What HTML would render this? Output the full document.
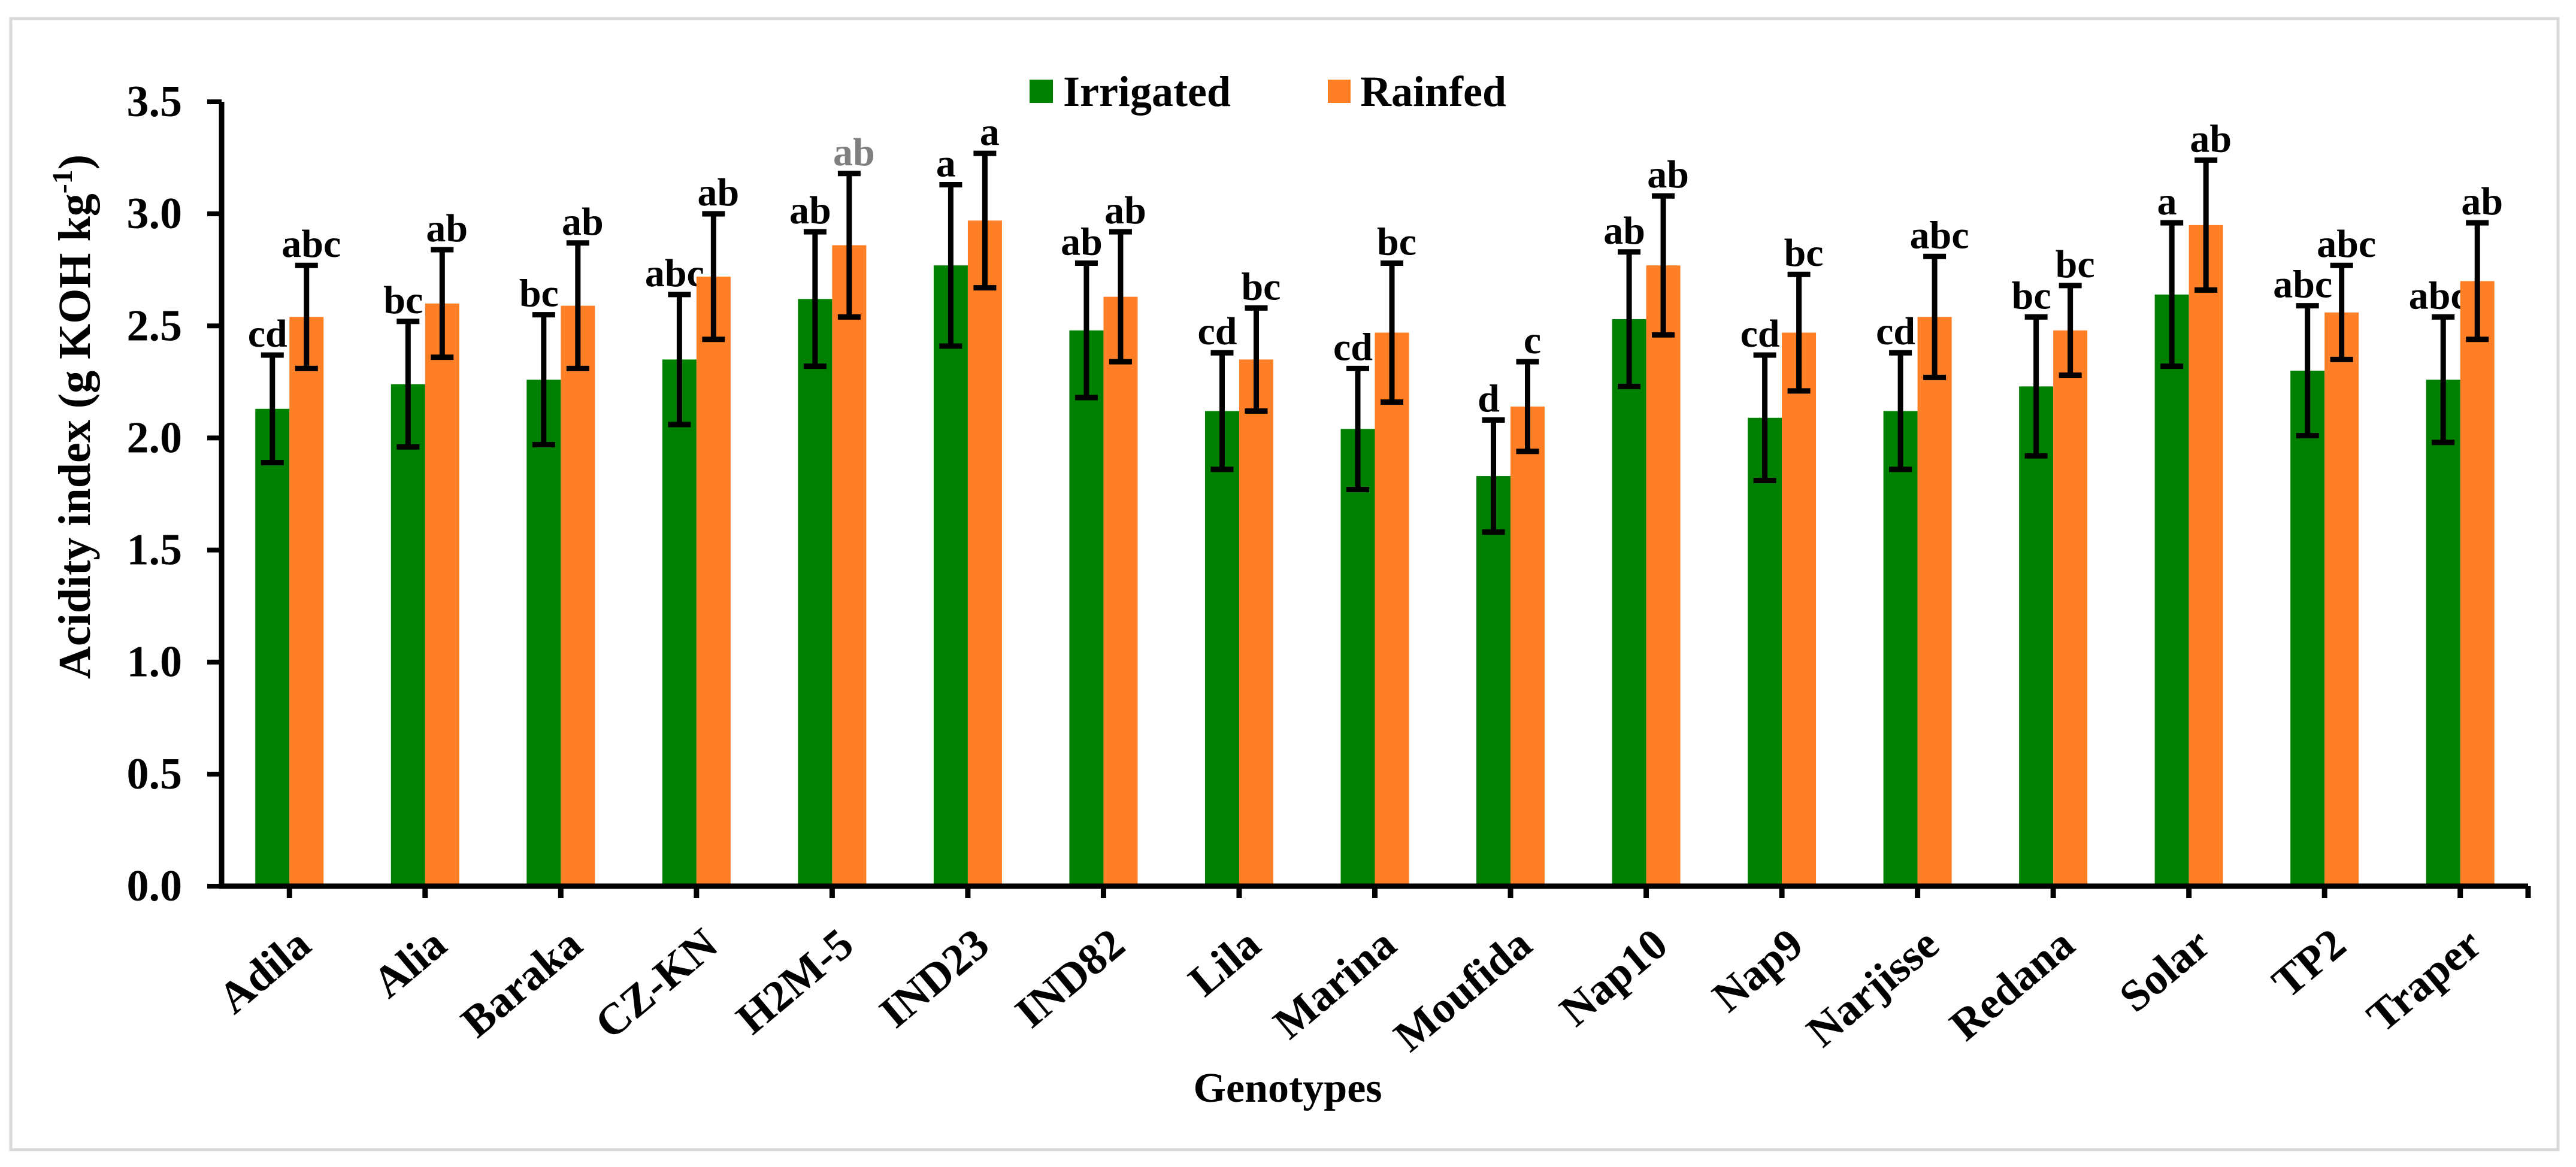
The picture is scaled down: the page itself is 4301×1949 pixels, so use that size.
<!DOCTYPE html>
<html><head><meta charset="utf-8"><style>
html,body{margin:0;padding:0;background:#fff;}
svg{display:block;}
svg text{font-family:"Liberation Serif","Times New Roman",serif;font-weight:bold;fill:#000;}
</style></head><body>
<svg id="chart" width="4301" height="1949" viewBox="0 0 4301 1949" font-family="Liberation Serif, serif" font-weight="bold">
<rect x="18" y="31" width="4253" height="1889" fill="#fff" stroke="#d9d9d9" stroke-width="5"/>
<g id="bars"></g>
<g id="axes"></g>
<g>
<rect x="1719" y="133" width="39" height="39" fill="#008000"/>
<text x="1775" y="177" font-size="72">Irrigated</text>
<rect x="2217" y="133" width="38" height="39" fill="#ff7f27"/>
<text x="2271" y="177" font-size="72">Rainfed</text>
</g>
<text transform="translate(150,696) rotate(-90)" text-anchor="middle" font-size="76">Acidity index (g KOH kg<tspan font-size="48" dy="-30">-1</tspan><tspan dy="30">)</tspan></text>
<text x="2150" y="1840" text-anchor="middle" font-size="70">Genotypes</text>
</svg>
<script>
const categories=["Adila","Alia","Baraka","CZ-KN","H2M-5","IND23","IND82","Lila","Marina","Moufida","Nap10","Nap9","Narjisse","Redana","Solar","TP2","Traper"];
const irrigated=[2.13,2.24,2.26,2.35,2.62,2.77,2.48,2.12,2.04,1.83,2.53,2.09,2.12,2.23,2.64,2.30,2.26];
const rainfed=[2.54,2.60,2.59,2.72,2.86,2.97,2.63,2.35,2.47,2.14,2.77,2.47,2.54,2.48,2.95,2.56,2.70];
const irrigatedErr=[0.24,0.28,0.29,0.29,0.30,0.36,0.30,0.26,0.27,0.25,0.30,0.28,0.26,0.31,0.32,0.29,0.28];
const rainfedErr=[0.23,0.24,0.28,0.28,0.32,0.30,0.29,0.23,0.31,0.20,0.31,0.26,0.27,0.20,0.29,0.21,0.26];
const irrigatedLetters=["cd","bc","bc","abc","ab","a","ab","cd","cd","d","ab","cd","cd","bc","a","abc","abc"];
const rainfedLetters=["abc","ab","ab","ab","ab","a","ab","bc","bc","c","ab","bc","abc","bc","ab","abc","ab"];
const yTicks=[0,0.5,1,1.5,2,2.5,3,3.5];
const yTickLabels=["0.0","0.5","1.0","1.5","2.0","2.5","3.0","3.5"];

const NS="http://www.w3.org/2000/svg";
const X0=370,X1=4221,Y0=1480,Y1=170,YMAX=3.5;
const band=(X1-X0)/categories.length, bw=57;
function y(v){return Y0-(v/YMAX)*(Y0-Y1);}
function xc(i){return X0+band*(i+0.5);}
function mk(tag,attrs,parent){const e=document.createElementNS(NS,tag);for(const k in attrs)e.setAttribute(k,attrs[k]);parent.appendChild(e);return e;}
const gb=document.getElementById('bars'), ga=document.getElementById('axes');

categories.forEach((c,i)=>{
  [[irrigated,irrigatedErr,irrigatedLetters,'#008000',-1,'irrigated'],[rainfed,rainfedErr,rainfedLetters,'#ff7f27',0,'rainfed']].forEach(s=>{
    const [vals,errs,lets,col,off,nm]=s;
    const bx=xc(i)+off*bw, cx=bx+bw/2, v=vals[i], e=errs[i];
    const r=mk('rect',{x:bx,y:y(v),width:bw,height:Y0-y(v),fill:col},gb);
    
    
    const eb=mk('path',{d:`M${cx},${y(v+e)}V${y(v-e)}M${cx-19},${y(v+e)}H${cx+19}M${cx-19},${y(v-e)}H${cx+19}`,stroke:'#000','stroke-width':9,fill:'none'},gb);
    
    
    const t=mk('text',{x:cx+(off<0?-8:8),y:y(v+e)-14,'text-anchor':'middle','font-size':66},gb);
    t.textContent=lets[i];
    if(nm==='rainfed'&&c==='H2M-5')t.setAttribute('style','fill:#7f7f7f');
    
    
  });
  const tk=mk('line',{x1:xc(i),x2:xc(i),y1:Y0,y2:Y0+20,stroke:'#000','stroke-width':9},ga);
  
  
  const lb=mk('text',{transform:`translate(${xc(i)+40},1585) rotate(-40)`,'text-anchor':'end','font-size':74},ga);
  lb.textContent=c;
  
  
});
yTicks.forEach((v,i)=>{
  const tk=mk('line',{x1:X0-24,x2:X0,y1:y(v),y2:y(v),stroke:'#000','stroke-width':8},ga);
  
  
  const lb=mk('text',{x:304,y:y(v)+24,'text-anchor':'end','font-size':74},ga);
  lb.textContent=yTickLabels[i];
  
  
});
const ax=mk('path',{d:`M${X0},${Y1}V${Y0}H${X1}`,stroke:'#000','stroke-width':9,fill:'none'},ga);


const rt=mk('line',{x1:X1,x2:X1,y1:Y0,y2:Y0+20,stroke:'#000','stroke-width':9},ga);


</script>
</body></html>
